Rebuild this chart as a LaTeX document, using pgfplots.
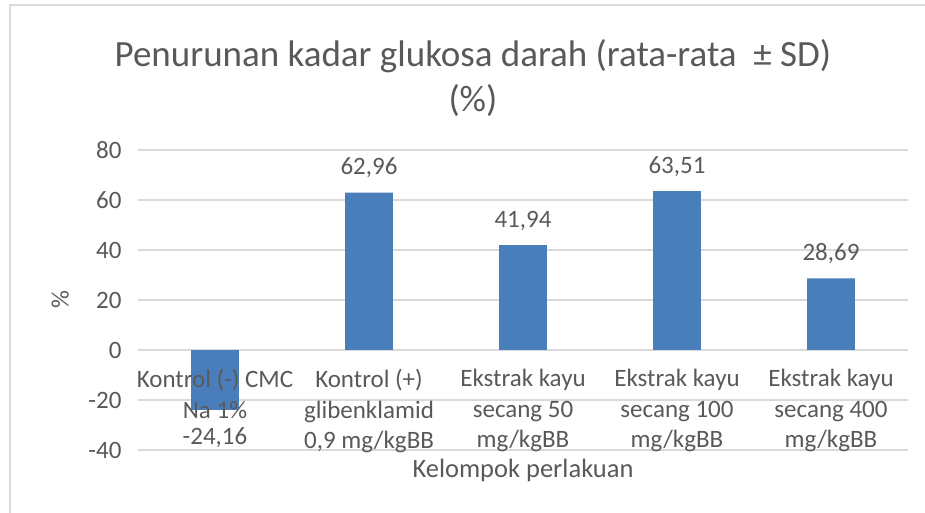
\documentclass[border=0pt]{standalone}
\usepackage{pgfplots}
\pgfplotsset{compat=1.18}
\usepackage{fontspec}
\setmainfont{Carlito}
\definecolor{barblue}{HTML}{4A7EBB}
\definecolor{txt}{HTML}{595959}
\definecolor{gridc}{HTML}{D9D9D9}
\begin{document}
\begin{tikzpicture}[x=1pt,y=1pt]
\path[use as bounding box] (0,0) rectangle (925,513);
\draw[gridc, line width=1.2pt] (10,0) -- (10,508) -- (925,508);
\begin{axis}[at={(138pt,63pt)}, anchor=south west, scale only axis,
  width=770pt, height=300pt,
  xmin=-0.5, xmax=4.5, ymin=-40, ymax=80,
  ytick={-40,-20,0,20,40,60,80},
  xtick={0,1,2,3,4}, xticklabels={},
  axis line style={draw=none}, major tick length=0pt,
  ymajorgrids, grid style={gridc, line width=1.2pt},
  /pgf/number format/assume math mode=true,
  tick label style={font=\fontsize{25}{30}\selectfont, text=txt},
  yticklabel style={xshift=-13pt},
  ylabel={\%}, ylabel style={at={(axis description cs:-0.101,0.5)}, anchor=center, font=\fontsize{25}{30}\selectfont, text=txt},
  xlabel={Kelompok perlakuan}, xlabel style={at={(axis description cs:0.5,-0.0667)}, anchor=center, font=\fontsize{26.5}{30}\selectfont, text=txt},
  title={Penurunan kadar glukosa darah (rata-rata \ ± SD)\\(\%)},
  title style={at={(axis description cs:0.435,1.22)}, anchor=center, align=center, font=\fontsize{37}{45}\selectfont, text=txt},
  ybar, bar width=0.31, bar shift=0pt,
  nodes near coords, point meta=explicit symbolic,
  nodes near coords style={font=\fontsize{25}{30}\selectfont, text=txt},
]
\addplot[fill=barblue, draw=none,
  every node near coord/.append style={anchor=south, yshift=11pt}] table[meta=lab] {
x y lab
1 62.96 62,96
2 41.94 41,94
3 63.51 63,51
4 28.69 28,69
};
\addplot[fill=barblue, draw=none,
  every node near coord/.append style={anchor=north, yshift=-14pt}] table[meta=lab] {
x y lab
0 -24.16 -24,16
};
% category labels (drawn over the bars, at the zero line)
\addplot[draw=none, fill=none, forget plot,
  every node near coord/.append style={anchor=north, align=center, yshift=-16pt, font=\fontsize{25}{30.5}\selectfont}]
  coordinates {
  (0,0) [{Kontrol (-) CMC\\Na 1\%}]
  (1,0) [{Kontrol (+)\\glibenklamid\\0,9 mg/kgBB}]
  (2,0) [{Ekstrak kayu\\secang 50\\mg/kgBB}]
  (3,0) [{Ekstrak kayu\\secang 100\\mg/kgBB}]
  (4,0) [{Ekstrak kayu\\secang 400\\mg/kgBB}]
  };
\end{axis}
\end{tikzpicture}
\end{document}
